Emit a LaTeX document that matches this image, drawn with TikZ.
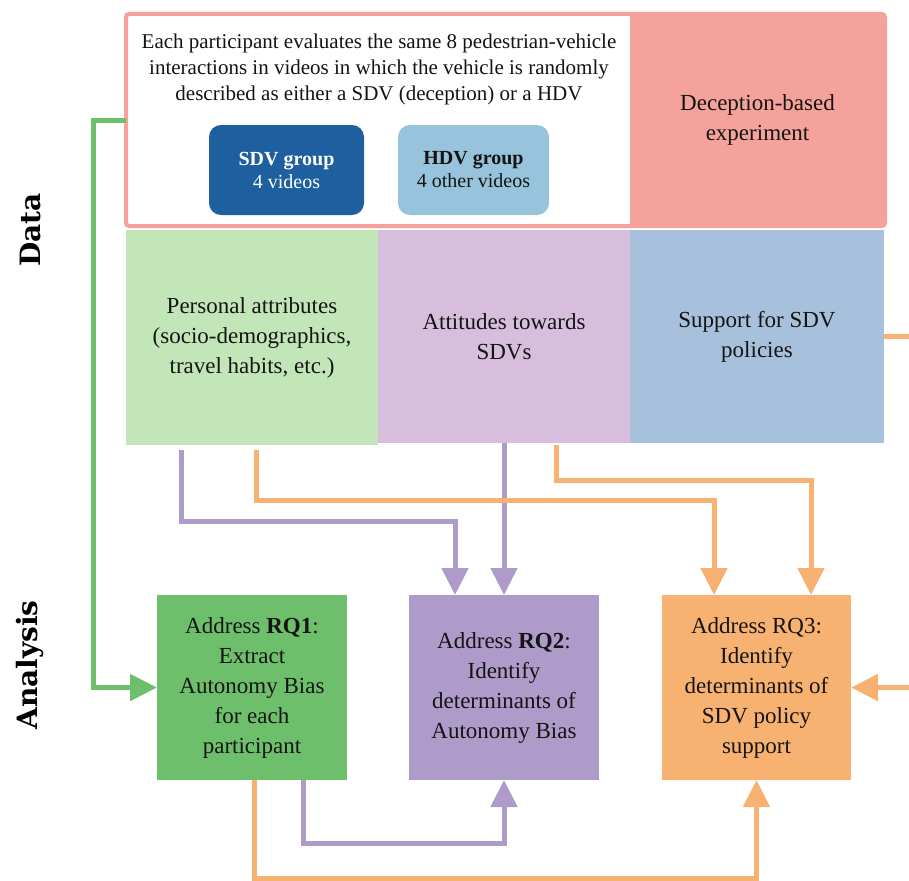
\documentclass[tikz,border=0pt]{standalone}
\usepackage{fontspec}
\setmainfont{Liberation Serif}
\newfontfamily\labfont{DejaVu Serif}
\usetikzlibrary{arrows.meta,calc}
\definecolor{pinkc}{HTML}{F4A29B}
\definecolor{darkblue}{HTML}{1E5FA0}
\definecolor{lightblue}{HTML}{97C3DC}
\definecolor{greenl}{HTML}{C3E6B9}
\definecolor{purplel}{HTML}{D6BEDC}
\definecolor{bluel}{HTML}{A7C1DC}
\definecolor{greend}{HTML}{6EBF6B}
\definecolor{purpled}{HTML}{AE9BCA}
\definecolor{oranged}{HTML}{F7B170}
\definecolor{txt}{HTML}{141414}
\begin{document}
\begin{tikzpicture}[x=1pt,y=-1pt,
  blk/.style={anchor=north west, inner sep=0pt, outer sep=0pt, align=center, text=txt},
  mid/.style={font=\fontsize{23}{30}\selectfont},
  small/.style={font=\fontsize{21}{26}\selectfont},
  grp/.style={blk, rounded corners=12pt, minimum width=155pt, minimum height=90pt, font=\fontsize{20}{23}\selectfont},
  conn/.style={line width=5pt, -{Triangle[width=26pt,length=27pt]}},
  side/.style={font=\labfont\bfseries\fontsize{28}{30}\selectfont, rotate=90, text=black}
]
\useasboundingbox (0,0) rectangle (909,880);
% experiment frame
\node[blk, draw=pinkc, line width=4pt, fill=white, rounded corners=3pt,
      minimum width=759pt, minimum height=212pt] (exp) at (126,14) {};
\node[blk, fill=pinkc, mid, minimum width=255pt, minimum height=212pt] (dec) at (630,14)
  {Deception-based\\experiment};
\node[small, align=center, text=txt, inner sep=0pt] (desc) at (379,69)
  {Each participant evaluates the same 8 pedestrian-vehicle\\
   interactions in videos in which the vehicle is randomly\\
   described as either a SDV (deception) or a HDV};
\node[grp, fill=darkblue, text=white] (sdv) at (209,125) {\textbf{SDV group}\\4 videos};
\node[grp, fill=lightblue, minimum width=151pt] (hdv) at (398,125) {\textbf{HDV group}\\4 other videos};
% data boxes
\node[blk, fill=greenl, mid, minimum width=252pt, minimum height=215pt] (pa) at (126,230)
  {Personal attributes\\(socio-demographics,\\travel habits, etc.)};
\node[blk, fill=purplel, mid, minimum width=252pt, minimum height=213pt] (att) at (378,230)
  {Attitudes towards\\SDVs};
\node[blk, fill=bluel, mid, minimum width=254pt, minimum height=213pt] (sup) at (630,230)
  {Support for SDV\\policies};
% analysis boxes
\node[blk, fill=greend, mid, minimum width=190pt, minimum height=185pt] (rq1) at (157,595)
  {Address \textbf{RQ1}:\\Extract\\Autonomy Bias\\for each\\participant};
\node[blk, fill=purpled, mid, minimum width=190pt, minimum height=185pt] (rq2) at (409,595)
  {Address \textbf{RQ2}:\\Identify\\determinants of\\Autonomy Bias};
\node[blk, fill=oranged, mid, minimum width=189pt, minimum height=185pt] (rq3) at (662,595)
  {Address RQ3:\\Identify\\determinants of\\SDV policy\\support};
% side labels
\node[side] (data) at (30,230) {Data};
\node[side] (ana) at (30,665) {Analysis};
% connectors
\draw[conn, greend] (exp.west) -- ++(-33,0) |- (rq1.west);
\draw[conn, purpled] ($(pa.south west)+(55,5)$) -- ++(0,71) -| ($(rq2.north west)+(46,0)$);
\draw[conn, purpled] (att.south) -- (rq2.north);
\draw[conn, oranged] ($(pa.south west)+(130,5)$) -- ++(0,50) -| ($(rq3.north west)+(52,0)$);
\draw[conn, oranged] ($(att.south west)+(178,2)$) -- ++(0,35) -| ($(rq3.north west)+(149,0)$);
\draw[conn, oranged] (sup.east) -- ++(40,0) |- (rq3.east);
\draw[conn, purpled] ($(rq1.south west)+(146,0)$) -- ++(0,63) -| (rq2.south);
\draw[conn, oranged] ($(rq1.south west)+(97,0)$) -- ++(0,98) -| (rq3.south);
\end{tikzpicture}
\end{document}
